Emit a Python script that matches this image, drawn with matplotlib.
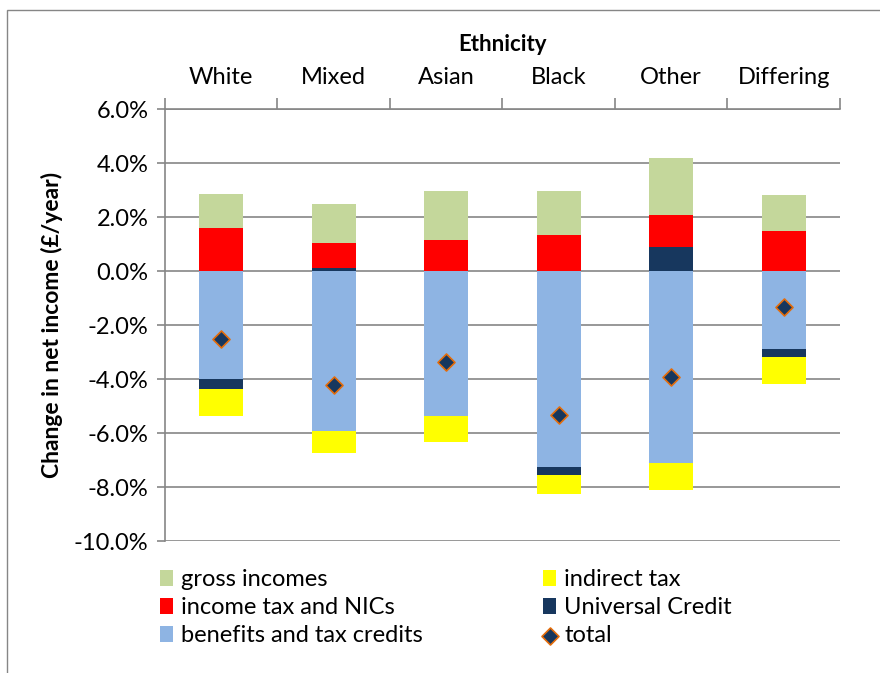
import numpy as np
import matplotlib
matplotlib.use("Agg")
from matplotlib import pyplot as plt
from matplotlib.patches import Rectangle
from matplotlib.ticker import FuncFormatter

plt.rcParams['font.family'] = ['Lato', 'DejaVu Sans']

categories = ["White", "Mixed", "Asian", "Black", "Other", "Differing"]
gross_incomes = [1.26, 1.44, 1.79, 1.61, 2.12, 1.35]
income_tax = [1.60, 0.95, 1.16, 1.34, 1.18, 1.47]
benefits = [-4.00, -5.94, -5.35, -7.27, -7.11, -2.87]
universal_credit = [-0.35, 0.10, -0.03, -0.28, 0.90, -0.33]
indirect_tax = [-1.02, -0.78, -0.96, -0.71, -1.00, -0.99]
total = [-2.51, -4.23, -3.37, -5.33, -3.93, -1.34]

# stacking order (positives and negatives stacked separately)
series = [
    ("benefits and tax credits", benefits, "#8eb4e3"),
    ("Universal Credit", universal_credit, "#17375e"),
    ("income tax and NICs", income_tax, "#ff0000"),
    ("gross incomes", gross_incomes, "#c4d79b"),
    ("indirect tax", indirect_tax, "#ffff00"),
]

fig = plt.figure(figsize=(8.8, 6.73), dpi=100)
ax = fig.add_axes([0.1875, 0.196, 0.767, 0.642])

x = np.arange(len(categories))
pos = np.zeros(len(categories))
neg = np.zeros(len(categories))
handles = {}
for name, vals, col in series:
    vals = np.array(vals)
    bottoms = np.where(vals >= 0, pos, neg)
    h = ax.bar(x, vals, 0.39, bottom=bottoms, color=col, zorder=3, label=name)
    handles[name] = h
    pos += np.where(vals >= 0, vals, 0)
    neg += np.where(vals < 0, vals, 0)

tot = ax.scatter(x, total, marker="D", s=75, color="#17375e", edgecolors="#e46c0a",
                 linewidths=1.2, zorder=5, label="total")

ax.set_xlim(-0.5, len(categories) - 0.5)
ax.set_ylim(-10, 6)
ax.set_yticks(np.arange(-10, 7, 2))
ax.yaxis.set_major_formatter(FuncFormatter(lambda v, p: f"{v:.1f}%"))
ax.grid(axis="y", color="#868686", linewidth=1.2, zorder=0)
ax.tick_params(axis="y", labelsize=17, length=6, color="#868686", width=1.2, pad=6)

ax.xaxis.tick_top()
ax.set_xticks(x)
ax.set_xticklabels(categories, fontsize=17)
ax.set_xticks(np.arange(-0.5, len(categories)), minor=True)
ax.tick_params(axis="x", which="major", length=0, pad=15)
ax.tick_params(axis="x", which="minor", length=8, color="#868686", width=1.2)
ax.xaxis.set_label_position("top")
ax.set_xlabel("Ethnicity", fontsize=16, fontweight="bold", labelpad=12)
ax.set_ylabel("Change in net income (£/year)", fontsize=16.5, fontweight="bold", labelpad=8)

for s in ["right", "bottom"]:
    ax.spines[s].set_visible(False)
for s in ["left", "top"]:
    ax.spines[s].set_color("#868686")
    ax.spines[s].set_linewidth(1.2)

order = ["gross incomes", "income tax and NICs", "benefits and tax credits",
         "indirect tax", "Universal Credit"]
hs = [handles[n] for n in order] + [tot]
labels = order + ["total"]
fig.legend(hs, labels, loc="upper left", bbox_to_anchor=(0.168, 0.172), ncol=2,
           frameon=False, fontsize=17, handlelength=0.55, handleheight=0.7,
           handletextpad=0.35, columnspacing=5.1, labelspacing=0.3,
           borderpad=0.0)

fig.patches.append(Rectangle((0.008, -0.01), 1.5, 0.995, transform=fig.transFigure,
                             fill=False, edgecolor="#868686", linewidth=1.0))

fig.savefig("out.png", dpi=100)
